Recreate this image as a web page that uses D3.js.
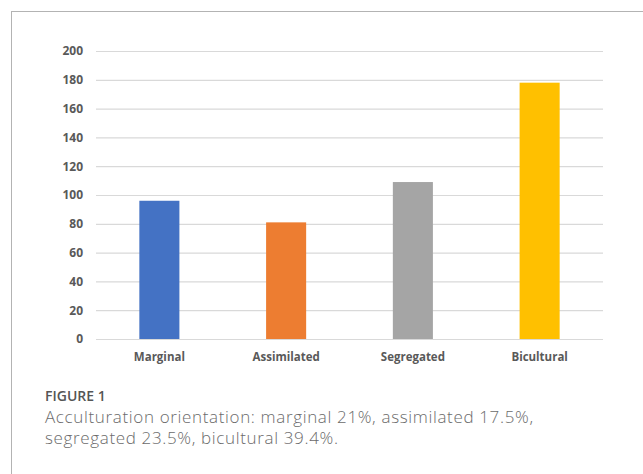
<!DOCTYPE html>
<html>
<head>
<meta charset="utf-8">
<script src="https://cdn.jsdelivr.net/npm/d3@7"></script>
<style>
  html, body { margin: 0; padding: 0; background: #fff; }
  svg { display: block; }
</style>
</head>
<body>
<script>
// Acculturation orientation counts
const categories = ["Marginal", "Assimilated", "Segregated", "Bicultural"];
const counts = [96, 81, 109, 178];
const barColors = ["#4472C4", "#ED7D31", "#A5A5A5", "#FFC000"];
const yTicks = [0, 20, 40, 60, 80, 100, 120, 140, 160, 180, 200];
const figureLabel = "FIGURE 1";
const captionLines = [
  "Acculturation orientation: marginal 21%, assimilated 17.5%,",
  "segregated 23.5%, bicultural 39.4%."
];

const W = 643, H = 474;
const plot = { left: 96, right: 603, top: 51, bottom: 339 };

const svg = d3.select("body").append("svg")
  .attr("width", W).attr("height", H);

// panel frame: top and left rules
svg.append("line").attr("x1", 11).attr("x2", W).attr("y1", 11.5).attr("y2", 11.5)
  .attr("stroke", "#b3b3b3").attr("stroke-width", 1);
svg.append("line").attr("x1", 11.5).attr("x2", 11.5).attr("y1", 11).attr("y2", H)
  .attr("stroke", "#b3b3b3").attr("stroke-width", 1);

const x = d3.scaleBand()
  .domain(categories)
  .range([plot.left, plot.right])
  .paddingInner(0.684)
  .paddingOuter(0.342);

const y = d3.scaleLinear()
  .domain([0, 200])
  .range([plot.bottom, plot.top]);

// gridlines + y labels
const yAxis = d3.axisLeft(y)
  .tickValues(yTicks)
  .tickSize(-(plot.right - plot.left))
  .tickPadding(13);

const gy = svg.append("g")
  .attr("transform", `translate(${plot.left},0)`)
  .call(yAxis);
gy.select(".domain").remove();
gy.selectAll(".tick line").attr("stroke", "#d9d9d9").attr("stroke-width", 1.2);
gy.selectAll(".tick text")
  .attr("fill", "#595959")
  .style("font-family", "'Open Sans', sans-serif")
  .style("font-weight", 700)
  .style("font-size", "12px");

// bars
svg.append("g").selectAll("rect")
  .data(categories)
  .join("rect")
  .attr("x", d => x(d))
  .attr("width", x.bandwidth())
  .attr("y", (d, i) => y(counts[i]))
  .attr("height", (d, i) => y(0) - y(counts[i]))
  .attr("fill", (d, i) => barColors[i]);

// x labels
const xAxis = d3.axisBottom(x).tickSize(0).tickPadding(14);
const gx = svg.append("g")
  .attr("transform", `translate(0,${plot.bottom})`)
  .call(xAxis);
gx.select(".domain").remove();
gx.selectAll(".tick text")
  .attr("fill", "#595959")
  .style("font-family", "'Open Sans', sans-serif")
  .style("font-weight", 700)
  .style("font-size", "11.5px");

// caption
svg.append("text")
  .attr("x", 45).attr("y", 400.5)
  .attr("fill", "#555")
  .style("font-family", "'Open Sans', sans-serif")
  .style("font-weight", 600)
  .style("font-size", "14px")
  .text(figureLabel);

svg.append("g").selectAll("text")
  .data(captionLines)
  .join("text")
  .attr("x", 45)
  .attr("y", (d, i) => 423 + i * 21)
  .attr("fill", "#6b6b6b")
  .style("font-family", "'Open Sans', sans-serif")
  .style("font-weight", 300)
  .style("font-size", "17px")
  .style("letter-spacing", "0.65px")
  .text(d => d);
</script>
</body>
</html>
